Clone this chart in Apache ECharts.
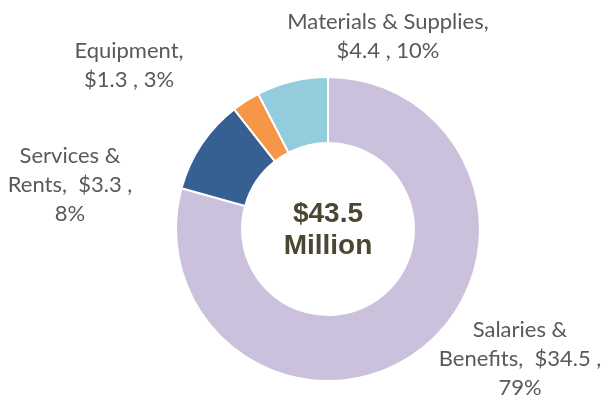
<!DOCTYPE html>
<html>
<head>
<meta charset="utf-8">
<script src="https://cdn.jsdelivr.net/npm/echarts@6/dist/echarts.min.js"></script>
<style>
  html, body { margin: 0; padding: 0; background: #fff; }
  #chart { width: 603px; height: 400px; }
</style>
</head>
<body>
<div id="chart"></div>
<script>
// budget split, $ millions (clockwise from 12 o'clock)
const names = ['Salaries &\nBenefits', 'Services &\nRents', 'Equipment', 'Materials & Supplies'];
// slice sizes as drawn in the picture (the source chart's rings don't follow its own labels)
const values = [34.5, 4.4, 1.3, 3.3];
// amounts printed in the labels
const labelValues = [34.5, 3.3, 1.3, 4.4];
const colors = ['#cbc1dc', '#366092', '#f79646', '#93cddd'];
// true = value shares the name line, percent on its own line
const valueOnNameLine = [true, true, false, false];
// label block centres (px)
const labelAt = [[520, 359], [70, 185], [129, 65], [388, 36]];

const total = labelValues.reduce((a, b) => a + b, 0);
const pct = (v) => Math.round(v / total * 100);
const chart = echarts.init(document.getElementById('chart'), null, { renderer: 'canvas' });

chart.setOption({
  animation: false,
  graphic: [{
    type: 'text', x: 328, y: 230,
    style: {
      text: '$' + total.toFixed(1) + '\nMillion',
      font: 'bold 28px "Liberation Sans", Arial, sans-serif',
      fill: '#4b4632', align: 'center', verticalAlign: 'middle', lineHeight: 32
    }
  }],
  series: [{
    type: 'pie',
    center: [328, 229],
    radius: [86, 152],
    startAngle: 90,
    clockwise: true,
    itemStyle: { borderColor: '#fff', borderWidth: 2 },
    labelLine: { show: false },
    label: {
      show: true,
      position: 'outside',
      overflow: 'none',
      color: '#595959',
      fontFamily: 'Lato, "Open Sans", sans-serif',
      fontSize: 22,
      lineHeight: 29,
      align: 'center',
      formatter: (p) => {
        const i = p.dataIndex, v = labelValues[i];
        return valueOnNameLine[i]
          ? p.name + ',  $' + v + ' ,\n' + pct(v) + '%'
          : p.name + ',\n$' + v + ' , ' + pct(v) + '%';
      }
    },
    labelLayout: (p) => ({
      x: labelAt[p.dataIndex][0], y: labelAt[p.dataIndex][1],
      align: 'center', verticalAlign: 'middle'
    }),
    data: names.map((n, i) => ({ name: n, value: values[i], itemStyle: { color: colors[i] } }))
  }]
});
</script>
</body>
</html>
